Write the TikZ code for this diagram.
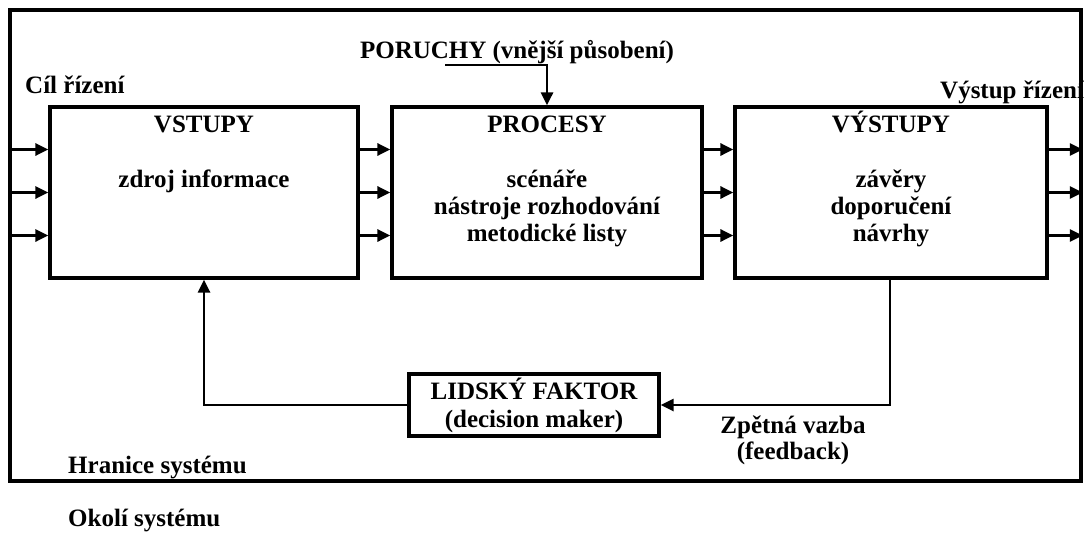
\documentclass[tikz,border=0pt]{standalone}
\usepackage{fontspec}
\setmainfont{Liberation Serif}
\usetikzlibrary{arrows.meta, positioning, calc}

\begin{document}
\begin{tikzpicture}[x=1pt, y=-1pt,
  font=\fontsize{25}{28}\selectfont\bfseries,
  block/.style={draw, line width=3.2pt, inner sep=0pt},
  lbl/.style={inner sep=0pt, anchor=base},
  sip/.style={line width=2.8pt, -{Triangle[length=13pt,width=12pt]}}]

\useasboundingbox (0,0) rectangle (1084,535);
\node [draw, line width=3.5pt, inner sep=0pt, minimum width=1071pt, minimum height=471pt] (hranice) at (545.5,245.5) {};

\node [block, minimum width=308pt, minimum height=171pt] (vstupy) at (204,192.5) {};
\node [block, minimum width=310pt, minimum height=171pt] (procesy) at (547,192.5) {};
\node [block, minimum width=312pt, minimum height=171pt] (vystupy) at (891,192.5) {};
\node [block, minimum width=250pt, minimum height=62pt, align=center] (lidsky) at (534,405) {LIDSKÝ FAKTOR\\(decision maker)};

\node [lbl] (vstupyT) at (204,132) {VSTUPY};
\node [lbl] (vstupyA) at (204,187) {zdroj informace};
\node [lbl] (procesyT) at (547,132) {PROCESY};
\node [lbl] (procesyA) at (547,187) {scénáře};
\node [lbl] (procesyB) at (547,214) {nástroje rozhodování};
\node [lbl] (procesyC) at (547,241) {metodické listy};
\node [lbl] (vystupyT) at (891,132) {VÝSTUPY};
\node [lbl] (vystupyA) at (891,187) {závěry};
\node [lbl] (vystupyB) at (891,214) {doporučení};
\node [lbl] (vystupyC) at (891,241) {návrhy};

\node [lbl] (poruchy) at (517,59) {PORUCHY (vnější působení)};
\node [lbl, anchor=base west] (cil) at (25,93) {Cíl řízení};
\node [lbl, anchor=base west] (vystup) at (940,98) {Výstup řízení};
\node [lbl] (zpetna) at (793,433) {Zpětná vazba};
\node [lbl] (feedback) at (793,459) {(feedback)};
\node [lbl, anchor=base west] (hraniceL) at (68,473) {Hranice systému};
\node [lbl, anchor=base west] (okoli) at (68,526) {Okolí systému};

\foreach \dy in {-43,0,43} {
  \draw [sip] ($(vstupy.west -| hranice.west)+(0,\dy)$) -- ($(vstupy.west)+(0,\dy)$);
  \draw [sip] ($(vstupy.east)+(0,\dy)$) -- ($(procesy.west)+(0,\dy)$);
  \draw [sip] ($(procesy.east)+(0,\dy)$) -- ($(vystupy.west)+(0,\dy)$);
  \draw [sip] ($(vystupy.east)+(0,\dy)$) -- ($(vystupy.east -| hranice.east)+(0,\dy)$);
}

\coordinate (porA) at (445,65);
\draw [sip] (porA) -- (porA -| procesy.north) -- (procesy.north);
\draw [sip] (vystupy.south -| 890,0) |- (lidsky.east);
\draw [sip] (lidsky.west) -| (vstupy.south);
\end{tikzpicture}
\end{document}
